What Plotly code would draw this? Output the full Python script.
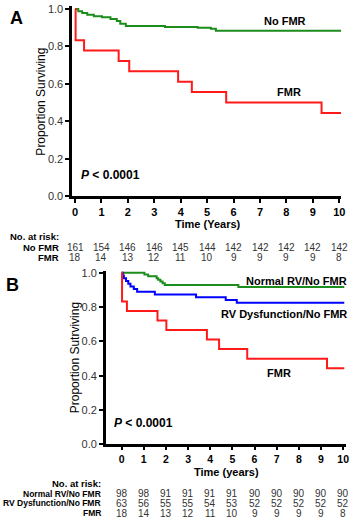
import plotly.graph_objects as go

W, H = 354, 527
FONT = "Liberation Sans, Arial, sans-serif"

# ---------------- data ----------------
years = list(range(0, 11))

# Panel A
a_nofmr_t = [0, 0.12, 0.27, 0.46, 0.71, 1.02, 1.34, 1.58, 1.71, 1.92, 3.4, 4.64, 5.14, 5.33, 10.07]
a_nofmr_s = [1.0, 0.988, 0.978, 0.969, 0.961, 0.955, 0.946, 0.935, 0.921, 0.909, 0.904, 0.900, 0.894, 0.883, 0.883]
a_fmr_t = [0, 0.02, 0.34, 1.65, 2.05, 3.9, 4.42, 5.72, 9.33, 10.07]
a_fmr_s = [1.0, 0.833, 0.778, 0.722, 0.667, 0.611, 0.556, 0.500, 0.444, 0.444]

# Panel B
b_norm_t = [0, 1.03, 1.2, 1.58, 1.65, 1.75, 1.85, 1.95, 5.27, 10.05]
b_norm_s = [1.0, 0.990, 0.980, 0.969, 0.959, 0.949, 0.939, 0.929, 0.918, 0.918]
b_rvd_t = [0, 0.05, 0.1, 0.2, 0.3, 0.4, 0.55, 0.7, 1.5, 3.36, 4.7, 5.2, 10.05]
b_rvd_s = [1.0, 0.984, 0.968, 0.952, 0.937, 0.921, 0.905, 0.889, 0.873, 0.857, 0.841, 0.825, 0.825]
b_fmr_t = [0, 0.02, 0.24, 1.62, 2.02, 3.85, 4.4, 5.67, 9.27, 10.05]
b_fmr_s = [1.0, 0.833, 0.778, 0.722, 0.667, 0.611, 0.556, 0.500, 0.444, 0.444]

# numbers at risk
a_risk_labels = ["No FMR", "FMR"]
a_risk_nofmr = [161, 154, 146, 146, 145, 144, 142, 142, 142, 142, 142]
a_risk_fmr = [18, 14, 13, 12, 11, 10, 9, 9, 9, 9, 8]

b_risk_labels = ["Normal RV/No FMR", "RV Dysfunction/No FMR", "FMR"]
b_risk_norm = [98, 98, 91, 91, 91, 91, 90, 90, 90, 90, 90]
b_risk_rvd = [63, 56, 55, 55, 54, 53, 52, 52, 52, 52, 52]
b_risk_fmr = [18, 14, 13, 12, 11, 10, 9, 9, 9, 9, 8]

GREEN = "#1c8c1c"
RED = "#ff1a1a"
BLUE = "#0000ff"


def px(x):
    return x / W


def py(y):
    return 1 - y / H


fig = go.Figure()

def add_curve(t, s, color, xa, ya):
    fig.add_trace(go.Scatter(x=t, y=s, mode="lines", line=dict(color=color, width=2, shape="hv"),
                             xaxis=xa, yaxis=ya, showlegend=False, hoverinfo="skip"))

add_curve(a_nofmr_t, a_nofmr_s, GREEN, "x", "y")
add_curve(a_fmr_t, a_fmr_s, RED, "x", "y")
add_curve(b_norm_t, b_norm_s, GREEN, "x2", "y2")
add_curve(b_rvd_t, b_rvd_s, BLUE, "x2", "y2")
add_curve(b_fmr_t, b_fmr_s, RED, "x2", "y2")

def xax(size, ticklen):
    return dict(showline=True, linecolor="black", linewidth=2.5, ticks="outside", ticklen=ticklen,
                tickwidth=2, tickcolor="black", showgrid=False, zeroline=False,
                tickmode="array", tickvals=years, ticktext=[str(v) for v in years],
                tickfont=dict(family=FONT, size=size, color="black", weight="bold"))

ycommon = dict(showline=True, linecolor="black", linewidth=2.5, ticks="outside", ticklen=4,
               tickwidth=2, tickcolor="black", showgrid=False, zeroline=False,
               tickmode="array", tickvals=[0, 0.2, 0.4, 0.6, 0.8, 1.0],
               ticktext=["0.0", "0.2", "0.4", "0.6", "0.8", "1.0"],
               tickfont=dict(family=FONT, size=11, color="#333333"))

fig.update_layout(
    width=W, height=H, margin=dict(l=0, r=0, t=0, b=0),
    paper_bgcolor="white", plot_bgcolor="white",
    xaxis=dict(domain=[px(73), px(345)], range=[-0.11, 10.07], anchor="y", **xax(11, 4)),
    yaxis=dict(domain=[py(196), py(2)], range=[0, 1.0157], anchor="x", **ycommon),
    xaxis2=dict(domain=[px(107), px(350)], range=[-0.714, 10.13], anchor="y2", **xax(10.5, 3)),
    yaxis2=dict(domain=[py(449), py(272)], range=[0, 1.0115], anchor="x2", **ycommon),
)

ann = []

def text(x, y, s, size=11, bold=False, color="black", xanchor="center", angle=0, xref="paper"):
    ann.append(dict(x=x, y=py(y), xref=xref, yref="paper", text=s, showarrow=False,
                    xanchor=xanchor, yanchor="middle", textangle=angle,
                    font=dict(family=FONT, size=size, color=color, weight="bold" if bold else "normal")))

# panel letters
text(px(17), 14, "A", size=18, bold=True)
text(px(13), 286, "B", size=18, bold=True)

# axis titles
text(px(42), 100, "Proportion Surviving", size=12, angle=-90)
text(px(210), 224, "Time (Years)", size=11, bold=True)
text(px(76), 361, "Proportion Sutrviving", size=12, angle=-90)
text(px(229), 477, "Time (years)", size=11, bold=True)

# curve labels
text(px(288), 17, "No FMR", size=11, bold=True)
text(px(292), 90, "FMR", size=11, bold=True)
text(px(112), 174, "<i>P</i> &lt; 0.0001", size=12, bold=True)
text(px(353), 282, "Normal RV/No FMR", size=11, bold=True, xanchor="right")
text(px(353), 316, "RV Dysfunction/No FMR", size=11, bold=True, xanchor="right")
text(px(282), 376, "FMR", size=11, bold=True)
text(px(145), 427, "<i>P</i> &lt; 0.0001", size=12, bold=True)

# numbers at risk: panel A
text(px(62), 237.5, "No. at risk:", size=9.5, bold=True, xanchor="right")
for lab, row, yy in zip(a_risk_labels, [a_risk_nofmr, a_risk_fmr], [248, 258]):
    text(px(62), yy, lab, size=9.5, bold=True, xanchor="right")
    for yr, n in zip(years, row):
        ann.append(dict(x=yr, y=py(yy), xref="x", yref="paper", text=str(n), showarrow=False,
                        xanchor="center", yanchor="middle",
                        font=dict(family=FONT, size=10, color="#333333")))

# numbers at risk: panel B
text(px(104), 489, "No. at risk:", size=9.5, bold=True, xanchor="right")
for lab, row, yy in zip(b_risk_labels, [b_risk_norm, b_risk_rvd, b_risk_fmr], [499, 509, 519]):
    text(px(104), yy, lab, size=8.5, bold=True, xanchor="right")
    for yr, n in zip(years, row):
        ann.append(dict(x=yr, y=py(yy), xref="x2", yref="paper", text=str(n), showarrow=False,
                        xanchor="center", yanchor="middle",
                        font=dict(family=FONT, size=10, color="#333333")))

fig.update_layout(annotations=ann)
fig.write_html("out.html")
